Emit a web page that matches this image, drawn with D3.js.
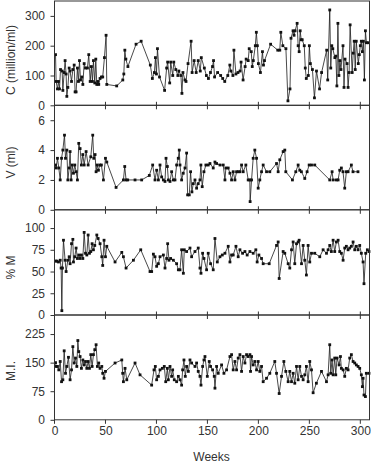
<!DOCTYPE html>
<html><head><meta charset="utf-8">
<script src="https://cdn.jsdelivr.net/npm/d3@7"></script>
<style>body{margin:0;background:#fff}svg{display:block}</style>
</head><body><svg id="chart" width="371" height="465"></svg>
<script>
// ---------- DATA ----------
const xTickValues = [0, 50, 100, 150, 200, 250, 300];
const xLabel = "Weeks";

const cWeeks = [1.0,1.6,2.9,3.9,4.9,5.9,7.5,8.2,9.5,10.4,11.4,12.1,13.1,14.4,15.3,16.7,18.0,19.3,20.2,21.2,22.5,23.5,24.5,25.5,26.8,27.8,29.1,30.4,32.3,33.6,35.0,36.2,37.2,38.2,39.5,40.5,41.5,42.4,43.4,44.7,46.0,47.3,49.0,50.6,51.3,61,67,68,69,70,72,80,85,94,96,98,99,100,101,103,108,110,111,113,114,116,117,119,121,122,124,125,126,128,129,131,134,135,137,139,141,143,144,147,149,151,153,155,156,157,160,163,165,167,170,172,173,175,176,178,180,182,183,185,187,188,190,191,193,194,195,197,198,199,200,202,204,205,206,212,219,221,222,224,227,229,231,232,234,235,236,238,239,240,241,242,243,245,246,247,249,250,251,253,255,257,260,262,267,268,270,271,272,273,275,276,277,278,279,280,281,283,284,285,287,288,289,290,292,293,294,295,296,298,299,300,301,302,303,304,305,306,308];
const cValues = [170,80,55,80,55,120,115,50,110,150,105,30,60,125,115,80,120,135,45,45,125,80,150,85,95,70,140,125,125,170,80,130,80,150,75,155,70,80,70,90,95,95,160,235,70,65,85,105,185,155,130,205,215,135,90,110,160,105,190,95,50,125,145,75,145,100,145,120,100,115,100,40,110,85,80,140,215,110,150,110,150,115,160,125,100,90,110,130,150,95,110,100,90,80,100,135,115,100,185,105,110,115,145,85,130,155,150,190,180,130,150,200,245,200,140,110,180,135,150,205,185,185,245,200,190,15,55,225,250,235,250,275,200,180,250,220,220,200,125,90,100,200,140,120,25,115,55,110,185,85,320,125,200,190,160,165,65,275,100,150,120,200,60,155,140,60,110,270,110,175,215,120,215,140,170,200,215,180,215,85,250,210,210];

const vWeeks = [1,1.6,2.9,4.2,5.6,6.9,8.2,9.8,10.8,12.1,13.1,14.4,15.3,16.3,17.3,18.6,19.9,21.2,22.5,23.8,25.1,26.4,27.8,29.1,31,33,35.6,37.5,38.5,39.8,40.8,41.8,43.1,44.4,46,48,50,51.3,60.4,67.6,68.9,70.2,71.8,79,85.5,93,96.3,98.6,100.2,101.9,103.5,105.1,106.8,108.4,109.4,110.7,111.7,113.3,114.9,116.6,118.2,119.8,121.4,122.4,123.1,124.7,126.3,128,129.6,130.6,132.2,133.5,134.8,136.1,137.8,139.4,141,142.7,143.6,144.9,146.6,148.5,150.8,152.5,155.7,157.4,159,162.3,165.5,167.2,168.1,170.4,172.1,173.7,175.3,177,178.6,180.2,181.9,183.5,185.1,187.7,190,191.6,191.9,193.3,194.9,196.5,198.2,199.8,201.4,203.1,204.7,208,211.2,217.8,219.4,221,224.3,225.9,226.9,233.4,236.7,239,240.6,242.2,245.5,247.8,249.8,252.1,255.3,270,272.3,273.3,276.5,278.2,279.8,281.4,283,284.7,286.3,288,291.2,292.8,297.7];
const vValues = [3.0,2.8,3.45,2.8,2.0,3.45,4.0,5.0,3.45,4.0,2.0,2.8,3.9,2.0,3.0,2.45,3.0,2.55,2.0,4.45,4.1,3.0,3.7,3.0,3.9,3.0,3.55,5.0,3.45,3.7,2.55,3.0,2.65,3.0,3.0,2.0,3.45,3.2,1.5,2.0,2.9,2.0,2.0,2.0,2.0,2.3,3.0,2.0,2.65,2.0,3.0,2.2,2.0,1.9,3.45,2.9,2.0,1.9,2.55,2.0,2.0,3.0,3.45,4.0,3.0,2.0,2.45,2.8,3.8,1.0,1.0,2.55,1.2,1.75,2.0,1.45,1.75,2.0,3.0,1.55,2.55,3.0,3.0,3.1,2.8,3.2,3.1,3.0,3.0,2.0,2.8,2.8,2.45,2.0,2.55,2.0,2.55,2.55,2.55,3.0,2.55,3.0,2.0,2.0,0.55,2.0,3.45,4.0,3.45,1.45,2.0,2.55,3.0,2.55,2.55,3.1,2.55,3.35,3.9,4.0,2.55,2.0,2.55,3.0,2.65,2.55,2.1,2.55,3.0,3.0,3.0,2.0,2.55,2.0,2.0,2.0,2.65,2.8,2.55,1.45,2.55,2.55,3.0,2.55,2.55];

const mWeeks = [1.0,2.3,3.9,5.6,6.5,7.2,7.8,8.8,10.4,11.4,13.1,14.4,15.3,16.7,18.0,18.6,19.9,21.2,22.5,23.8,25.1,26.4,27.8,29.1,30.4,31.7,33.0,34.3,35.6,36.9,38.2,39.5,41.5,42.8,44.7,46.4,47.3,48.6,50.0,51.3,59.4,66.0,67.6,70.2,77.4,84.6,93.7,95.3,97.0,98.6,100.2,101.9,103.5,106.8,108.4,110.0,111.0,112.3,113.9,116.6,119.8,121.5,123.1,124.7,126.4,127.3,129.6,132.9,134.5,137.8,141.0,142.7,143.7,145.3,146.6,149.2,150.8,153.1,155.7,157.4,159.7,162.3,164.6,167.2,170.4,172.1,173.7,175.3,178.0,180.2,181.9,184.5,186.8,189.0,191.7,194.9,197.5,198.8,200.5,203.1,204.7,210.6,217.8,219.4,220.4,224.3,225.9,229.2,230.8,232.5,234.1,235.7,237.4,239.0,240.0,242.3,243.9,245.5,247.1,248.8,250.4,252.1,255.3,260.2,263.5,266.8,268.4,270.0,271.6,273.3,274.9,276.5,278.2,279.8,281.4,283.1,284.7,286.3,288.0,289.6,291.2,292.9,294.5,296.1,297.8,299.4,301.0,302.7,303.6,305.3,306.9,308.5];
const mValues = [62,62,61,63,54,5,54,86,63,50,63,67,59,82,87,61,67,77,65,69,65,69,65,95,71,69,92,71,73,82,75,80,92,88,82,67,57,86,67,79,61,72,67,54,63,75,50,50,70,67,56,59,67,69,54,65,82,63,65,63,59,52,52,75,48,75,73,77,67,73,77,54,48,71,65,52,71,59,52,88,61,67,69,71,79,61,69,69,79,67,75,71,73,69,73,71,75,61,69,65,59,59,80,84,42,73,71,59,54,75,84,59,82,84,86,59,80,63,46,80,61,71,71,67,75,71,75,80,73,86,73,84,86,73,71,63,77,79,75,77,79,84,75,79,75,80,71,61,36,71,75,73];

const miWeeks = [1.0,1.6,2.9,4.2,5.6,6.9,8.2,9.5,10.8,12.1,13.7,15.3,16.7,18.0,19.3,20.6,21.9,22.9,23.8,25.1,26.4,27.8,29.1,30.4,31.7,33.0,34.3,35.6,36.9,38.2,39.5,40.8,42.1,43.4,44.7,46.4,47.3,48.6,50.0,59.4,66.0,66.9,67.6,69.2,70.9,79.0,83.9,95.3,97.6,98.9,100.2,101.9,103.5,105.8,107.7,109.1,110.7,111.7,113.3,114.9,115.9,117.5,119.8,121.5,123.1,124.7,125.7,127.0,128.3,129.6,131.3,132.9,134.5,137.8,139.4,141.0,142.7,143.7,145.3,146.6,147.6,149.9,151.8,153.1,155.1,156.7,157.4,159.0,160.6,163.9,166.2,168.8,172.1,173.7,175.3,177.0,178.6,180.2,181.9,183.5,185.1,186.8,188.4,190.0,191.7,192.3,193.3,194.9,196.5,198.2,199.8,201.4,203.1,204.7,208.0,211.2,216.1,217.8,220.4,222.7,225.0,226.9,229.2,230.8,232.5,234.1,235.7,237.4,239.0,240.6,242.3,243.9,245.5,247.1,248.8,250.4,252.1,253.7,256.9,261.9,266.8,268.4,270.0,271.0,272.3,273.3,274.9,275.9,277.2,279.2,280.5,281.4,283.1,284.7,286.3,288.0,289.6,291.2,292.9,294.5,296.1,297.8,299.4,301.0,302.0,302.7,303.6,305.0,305.9,308.5];
const miValues = [150,140,140,131,153,100,105,181,122,140,164,105,131,192,149,162,140,208,179,166,135,157,144,153,135,153,135,171,140,171,184,197,140,149,135,140,122,109,127,149,157,122,100,135,105,149,118,91,131,140,105,114,131,135,140,100,135,105,140,114,131,105,100,114,105,91,131,157,114,140,127,157,149,140,149,127,114,91,140,157,166,114,153,140,131,114,83,140,122,144,122,131,166,171,131,153,131,162,171,127,166,149,171,166,171,127,166,144,153,131,153,127,140,100,109,122,153,122,69,114,153,127,100,127,100,122,96,140,105,140,114,105,118,140,100,153,131,71,96,127,100,118,197,122,157,118,162,118,162,144,166,135,131,114,135,131,162,171,153,149,144,140,135,118,87,109,65,61,122,122];

const panelLabels = ["C (million/ml)", "V (ml)", "% M", "M.I."];
const panelMax = [350, 7, 121, 275];
const panelTicks = [[0,100,200,300],[0,2,4,6],[0,25,50,75,100],[0,75,150,225]];

// ---------- LAYOUT ----------
const svg = d3.select("#chart");
const left = 54.5, right = 369.5;
const bounds = [[1, 105.3], [105.3, 209.8], [209.8, 315], [315, 419.8]];
const labelCenters = [60, 162.5, 267.5, 371];
const font = "'Liberation Sans', Arial, Helvetica, sans-serif";
const ink = "#333";
const x = d3.scaleLinear().domain([0, 309]).range([left, right]);

const series = [
  [cWeeks, cValues], [vWeeks, vValues], [mWeeks, mValues], [miWeeks, miValues]
];

series.forEach(([wk, vals], i) => {
  const [top, bottom] = bounds[i];
  const y = d3.scaleLinear().domain([0, panelMax[i]]).range([bottom, top]);
  const g = svg.append("g");
  const n = Math.min(wk.length, vals.length);
  const pts = d3.range(n).map(k => [wk[k], vals[k]]);

  // data line
  g.append("path").datum(pts)
    .attr("fill", "none").attr("stroke", "#1a1a1a").attr("stroke-width", 0.8)
    .attr("d", d3.line().x(d => x(d[0])).y(d => y(d[1])));
  g.selectAll("rect.pt").data(pts).join("rect").attr("class", "pt")
    .attr("x", d => x(d[0]) - 1.4).attr("y", d => y(d[1]) - 1.4)
    .attr("width", 2.8).attr("height", 2.8).attr("fill", "#111");

  // frame
  g.append("rect").attr("x", left).attr("y", top).attr("width", right - left)
    .attr("height", bottom - top).attr("fill", "none").attr("stroke", ink).attr("stroke-width", 1);

  // y axis
  const ya = g.append("g").attr("transform", `translate(${left},0)`)
    .call(d3.axisLeft(y).tickValues(panelTicks[i]).tickFormat(d3.format("d")).tickSize(4).tickPadding(5.5));
  ya.select(".domain").remove();
  ya.selectAll("line").attr("stroke", ink);
  ya.selectAll("text").attr("font-family", font).attr("font-size", 12).attr("fill", ink);

  // x ticks at bottom of panel
  const last = i === series.length - 1;
  g.selectAll("line.xt").data(xTickValues).join("line").attr("class", "xt")
    .attr("x1", d => x(d)).attr("x2", d => x(d))
    .attr("y1", last ? bottom : bottom - 3.5).attr("y2", bottom + 4)
    .attr("stroke", ink).attr("stroke-width", 1);

  // panel label
  svg.append("text").attr("transform", `translate(11,${labelCenters[i]}) rotate(-90)`)
    .attr("text-anchor", "middle").attr("dominant-baseline", "central")
    .attr("font-family", font).attr("font-size", 12).attr("fill", ink)
    .text(panelLabels[i]);

  if (last) {
    const xa = svg.append("g").attr("transform", `translate(0,${bottom})`)
      .call(d3.axisBottom(x).tickValues(xTickValues).tickSize(0).tickPadding(6.5));
    xa.select(".domain").remove();
    xa.selectAll("line").remove();
    xa.selectAll("text").attr("font-family", font).attr("font-size", 12).attr("fill", ink);
    svg.append("text").attr("x", (left + right) / 2 - 0.5).attr("y", 461)
      .attr("text-anchor", "middle").attr("font-family", font).attr("font-size", 12)
      .attr("fill", ink).text(xLabel);
  }
});
</script>
</body></html>
